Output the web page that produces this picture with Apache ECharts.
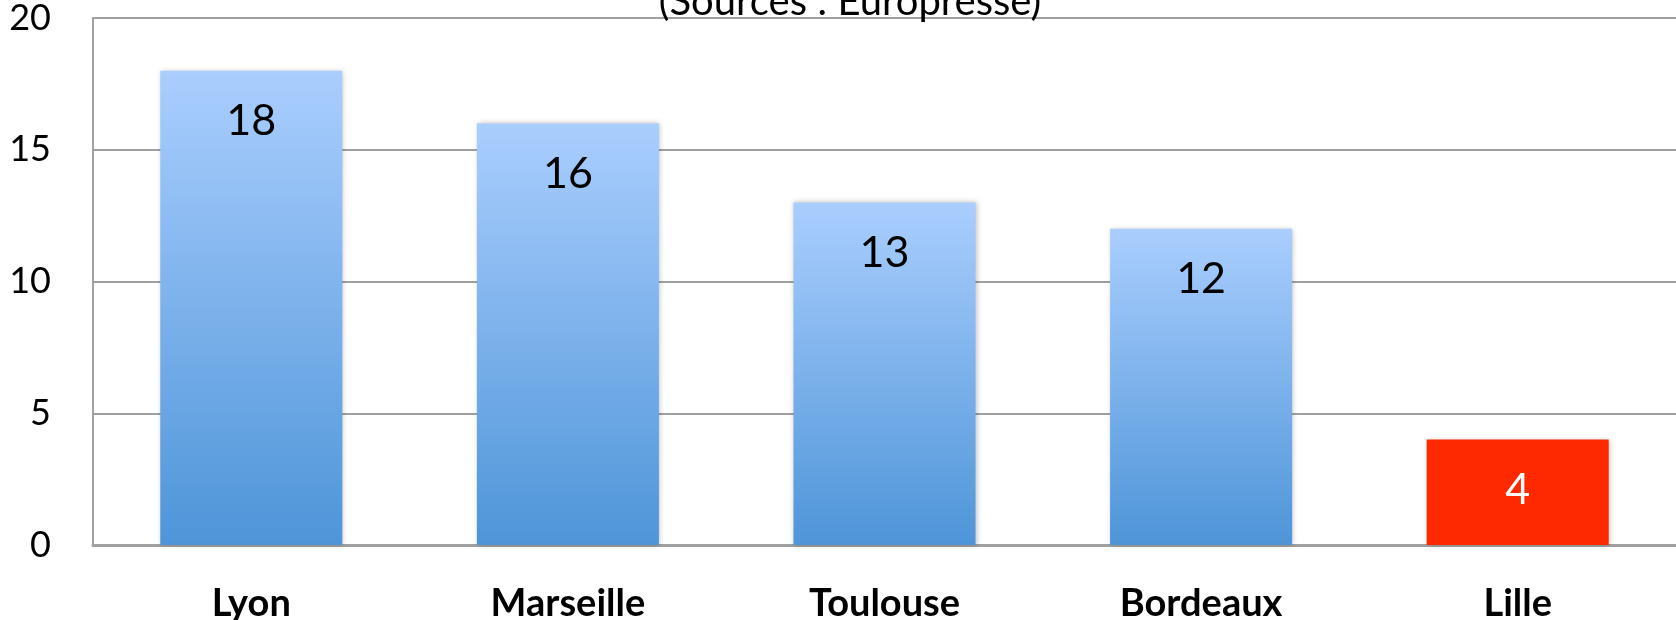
<!DOCTYPE html>
<html>
<head>
<meta charset="utf-8">
<script src="https://cdn.jsdelivr.net/npm/echarts@6/dist/echarts.min.js"></script>
<style>
html,body{margin:0;padding:0;background:#fff;}
#chart{width:1676px;height:620px;}
</style>
</head>
<body>
<div id="chart"></div>
<script>
const titleText = '(Sources : Europresse)';
const categories = ['Lyon', 'Marseille', 'Toulouse', 'Bordeaux', 'Lille'];
const values = [18, 16, 13, 12, 4];
const highlighted = ['Lille'];
const yTicks = [0, 5, 10, 15, 20];

const FONT = 'Lato, "Open Sans", sans-serif';
const blueGrad = new echarts.graphic.LinearGradient(0, 0, 0, 1, [
  {offset: 0, color: '#aacefe'},
  {offset: 1, color: '#4e95d8'}
]);

const chart = echarts.init(document.getElementById('chart'), null, {renderer: 'canvas'});
chart.setOption({
  animation: false,
  backgroundColor: '#fff',
  title: {
    text: titleText,
    left: 845,
    textAlign: 'center',
    top: -23,
    textStyle: {fontFamily: FONT, fontSize: 40, fontWeight: 'normal', color: '#000', lineHeight: 40}
  },
  grid: {left: 93, right: 0, top: 18, bottom: 75, containLabel: false, outerBoundsMode: 'none'},
  xAxis: {
    type: 'category',
    data: categories,
    axisLine: {show: true, lineStyle: {color: '#a0a0a0', width: 3}},
    axisTick: {show: false},
    axisLabel: {fontFamily: FONT, fontSize: 38, fontWeight: 'bold', color: '#000', margin: 40}
  },
  yAxis: {
    type: 'value',
    min: yTicks[0],
    max: yTicks[yTicks.length - 1],
    interval: yTicks[1] - yTicks[0],
    axisLine: {show: true, lineStyle: {color: '#a0a0a0', width: 2}},
    axisTick: {show: false},
    splitLine: {show: true, lineStyle: {color: '#a0a0a0', width: 2}},
    axisLabel: {fontFamily: FONT, fontSize: 36, color: '#000', margin: 42, padding: [8, 0, 0, 0]}
  },
  series: [{
    type: 'bar',
    barCategoryGap: '42.5%',
    data: values.map((v, i) => {
      const hi = highlighted.includes(categories[i]);
      return {
        value: v,
        itemStyle: {color: hi ? '#ff2900' : blueGrad},
        label: {color: hi ? '#fff' : '#000'}
      };
    }),
    itemStyle: {
      shadowBlur: 5,
      shadowColor: 'rgba(0,0,0,0.25)',
      shadowOffsetX: 1,
      shadowOffsetY: 0
    },
    label: {
      show: true,
      position: 'insideTop',
      distance: 29,
      fontFamily: FONT,
      fontSize: 43,
      lineHeight: 43
    }
  }]
});
</script>
</body>
</html>
